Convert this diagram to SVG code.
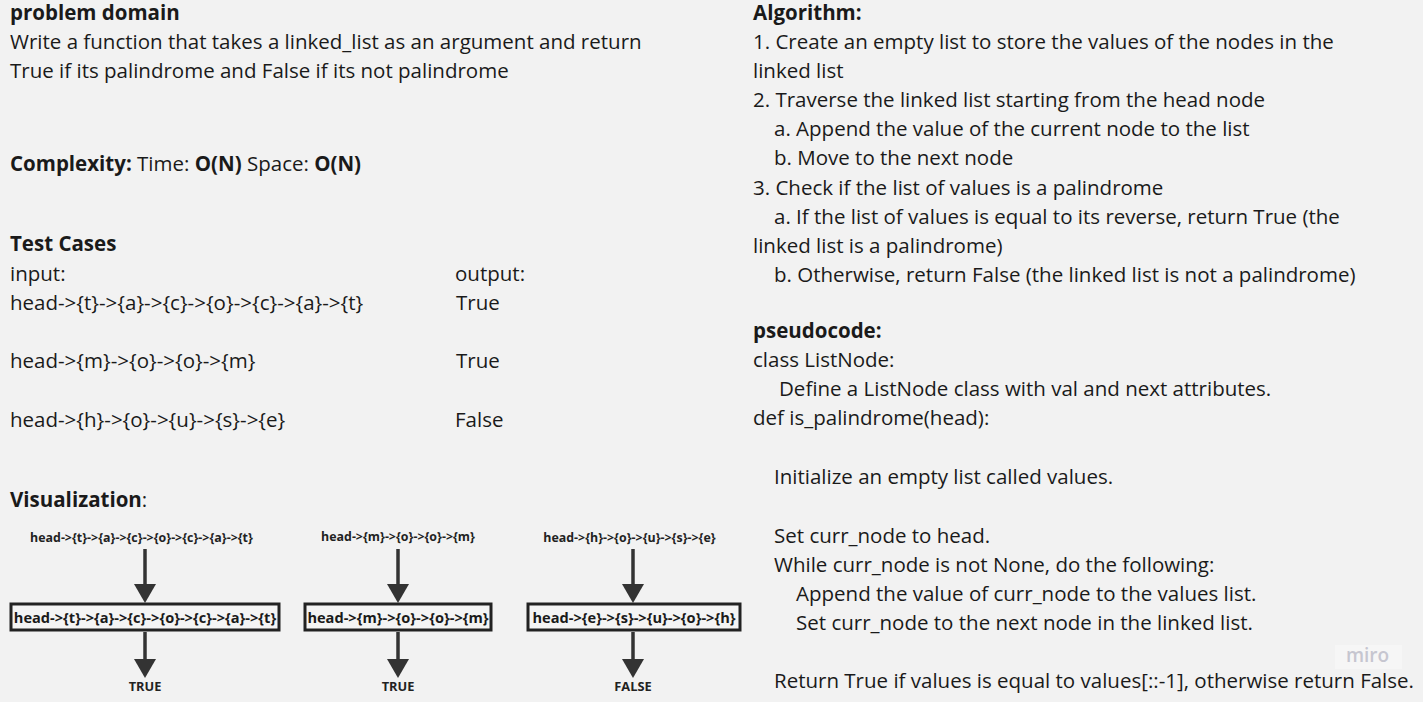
<svg xmlns="http://www.w3.org/2000/svg" width="1423" height="702" viewBox="0 0 1423 702">
<defs>
<style>
text{font-family:"Open Sans","Noto Sans","Liberation Sans",sans-serif;fill:#1a1a1a;}
.t{font-size:20.5px;}
.b{font-weight:bold;}
.lbl{font-size:12.4px;font-weight:bold;text-anchor:middle;fill:#222;}
.box{fill:#f4f4f4;stroke:#222;stroke-width:3;}
.btxt{font-size:14.6px;font-weight:bold;text-anchor:middle;fill:#1a1a1a;}
.res{font-size:12.8px;font-weight:bold;text-anchor:middle;fill:#222;}
.conn{stroke:#333;stroke-width:3.5;fill:none;}
.head{fill:#333;}
</style>
</defs>
<rect width="1423" height="702" fill="#f2f2f2"/>

<g id="left-text">
<text x="10" y="20" class="t b">problem domain</text>
<text x="10" y="49" class="t">Write a function that takes a linked_list as an argument and return</text>
<text x="10" y="78" class="t">True if its palindrome and False if its not palindrome</text>
<text x="10" y="171" class="t"><tspan class="b">Complexity:</tspan> Time: <tspan class="b">O(N)</tspan> Space: <tspan class="b">O(N)</tspan></text>
<text x="10" y="251" class="t b">Test Cases</text>
<text x="10" y="281" class="t">input:</text>
<text x="455" y="281" class="t">output:</text>
<text x="10" y="310" class="t">head-&gt;{t}-&gt;{a}-&gt;{c}-&gt;{o}-&gt;{c}-&gt;{a}-&gt;{t}</text>
<text x="456" y="310" class="t">True</text>
<text x="10" y="368" class="t">head-&gt;{m}-&gt;{o}-&gt;{o}-&gt;{m}</text>
<text x="456" y="368" class="t">True</text>
<text x="10" y="427" class="t">head-&gt;{h}-&gt;{o}-&gt;{u}-&gt;{s}-&gt;{e}</text>
<text x="455" y="427" class="t">False</text>
<text x="10" y="507" class="t"><tspan class="b">Visualization</tspan>:</text>
</g>

<g id="right-text">
<text x="753" y="20" class="t b">Algorithm:</text>
<text x="753" y="49" class="t">1. Create an empty list to store the values of the nodes in the</text>
<text x="753" y="78" class="t">linked list</text>
<text x="753" y="107" class="t">2. Traverse the linked list starting from the head node</text>
<text x="774" y="136" class="t">a. Append the value of the current node to the list</text>
<text x="774" y="165" class="t">b. Move to the next node</text>
<text x="753" y="195" class="t">3. Check if the list of values is a palindrome</text>
<text x="774" y="224" class="t">a. If the list of values is equal to its reverse, return True (the</text>
<text x="753" y="253" class="t">linked list is a palindrome)</text>
<text x="774" y="282" class="t">b. Otherwise, return False (the linked list is not a palindrome)</text>
<text x="753" y="338" class="t b">pseudocode:</text>
<text x="753" y="367" class="t">class ListNode:</text>
<text x="779" y="396" class="t">Define a ListNode class with val and next attributes.</text>
<text x="753" y="425" class="t">def is_palindrome(head):</text>
<text x="774" y="484" class="t">Initialize an empty list called values.</text>
<text x="774" y="543" class="t">Set curr_node to head.</text>
<text x="774" y="572" class="t">While curr_node is not None, do the following:</text>
<text x="796" y="601" class="t">Append the value of curr_node to the values list.</text>
<text x="796" y="630" class="t">Set curr_node to the next node in the linked list.</text>
<text x="774" y="688" class="t">Return True if values is equal to values[::-1], otherwise return False.</text>
</g>

<g id="connectors">
<line class="conn" x1="145" y1="549" x2="145" y2="588"/>
<polygon class="head" points="134,584 156,584 145,603"/>
<line class="conn" x1="145" y1="632" x2="145" y2="663"/>
<polygon class="head" points="134,659 156,659 145,678"/>
<line class="conn" x1="398" y1="549" x2="398" y2="588"/>
<polygon class="head" points="387,584 409,584 398,603"/>
<line class="conn" x1="398" y1="632" x2="398" y2="663"/>
<polygon class="head" points="387,659 409,659 398,678"/>
<line class="conn" x1="633" y1="549" x2="633" y2="588"/>
<polygon class="head" points="622,584 644,584 633,603"/>
<line class="conn" x1="633" y1="632" x2="633" y2="663"/>
<polygon class="head" points="622,659 644,659 633,678"/>
</g>

<g id="input1"><text x="141.5" y="542" class="lbl">head-&gt;{t}-&gt;{a}-&gt;{c}-&gt;{o}-&gt;{c}-&gt;{a}-&gt;{t}</text></g>
<g id="box1"><rect class="box" x="11" y="604" width="268" height="26"/><text x="145" y="623" class="btxt">head-&gt;{t}-&gt;{a}-&gt;{c}-&gt;{o}-&gt;{c}-&gt;{a}-&gt;{t}</text></g>
<g id="result1"><text x="145" y="691" class="res">TRUE</text></g>

<g id="input2"><text x="398" y="541" class="lbl">head-&gt;{m}-&gt;{o}-&gt;{o}-&gt;{m}</text></g>
<g id="box2"><rect class="box" x="305" y="604" width="186" height="26"/><text x="398" y="623" class="btxt">head-&gt;{m}-&gt;{o}-&gt;{o}-&gt;{m}</text></g>
<g id="result2"><text x="398" y="691" class="res">TRUE</text></g>

<g id="input3"><text x="629.5" y="542" class="lbl">head-&gt;{h}-&gt;{o}-&gt;{u}-&gt;{s}-&gt;{e}</text></g>
<g id="box3"><rect class="box" x="528" y="604" width="212" height="26"/><text x="634" y="623" class="btxt">head-&gt;{e}-&gt;{s}-&gt;{u}-&gt;{o}-&gt;{h}</text></g>
<g id="result3"><text x="633" y="691" class="res">FALSE</text></g>

<g id="watermark">
<rect x="1335" y="645" width="67" height="24" fill="#f6f6f6"/>
<text x="1367.5" y="662" font-size="19" text-anchor="middle" style="fill:#c6c6d0;font-weight:600">miro</text>
</g>
</svg>
